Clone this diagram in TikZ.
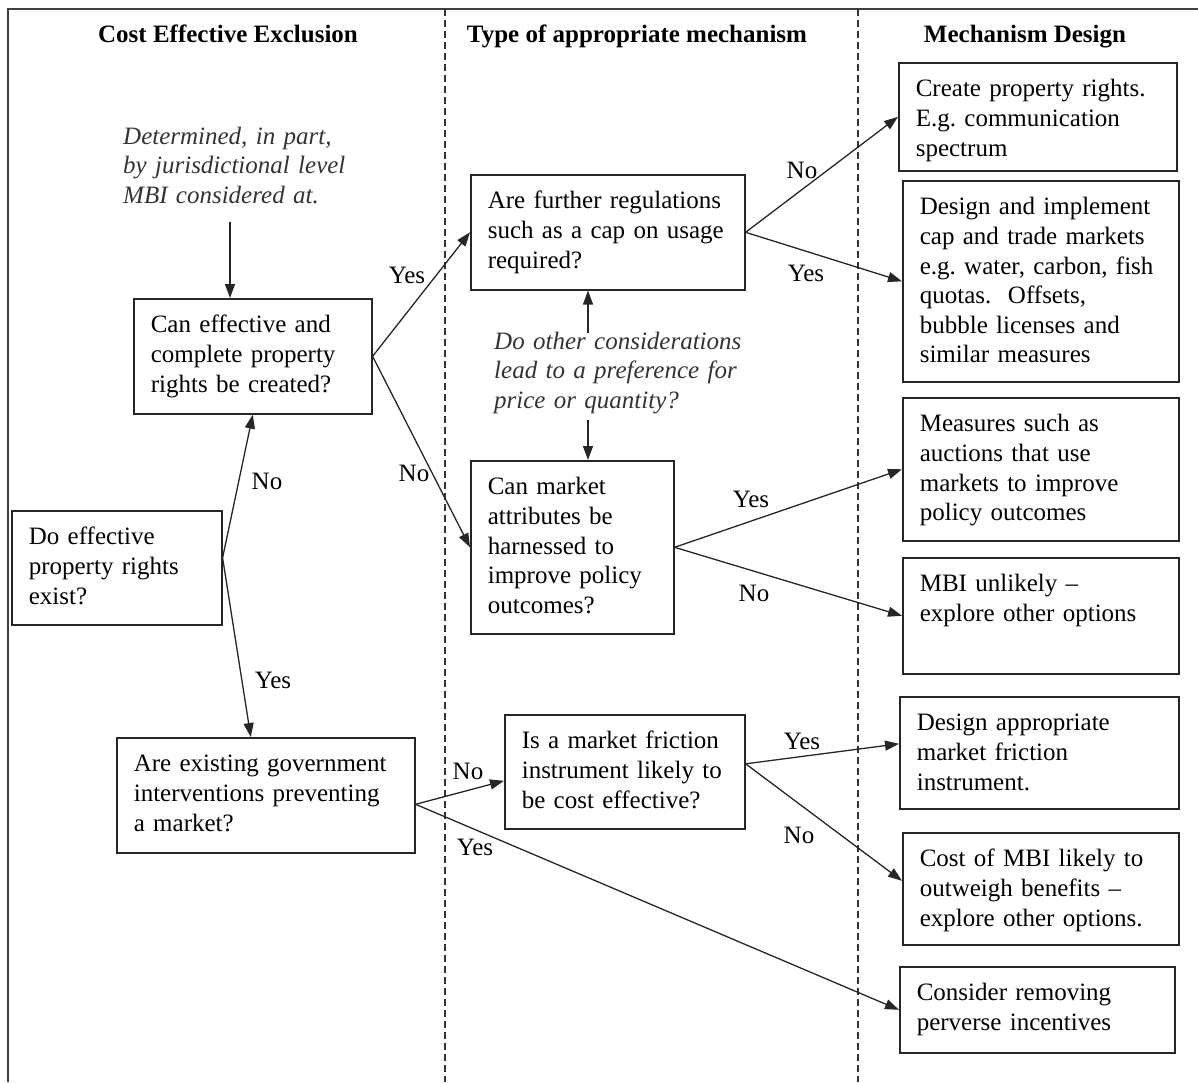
\documentclass[tikz,border=0pt]{standalone}
\usepackage{fontspec}
\setmainfont{Liberation Serif}
\usetikzlibrary{arrows.meta}
\newcommand\figfont{\fontsize{25}{29.6}\selectfont}
\frenchspacing

\begin{document}
\begin{tikzpicture}[
    x=1pt, y=-1pt,
    box/.style={draw=black!85,line width=1.6pt,anchor=north west,align=left,
                inner xsep=17pt,inner ysep=0pt,text height=34pt,font=\figfont},
    note/.style={anchor=base west,align=left,inner sep=0pt,text=black!80,font=\figfont\itshape},
    head/.style={anchor=base,inner sep=0pt,font=\figfont\bfseries},
    lbl/.style={inner sep=0pt,font=\figfont},
    arr/.style={-{Triangle[length=14pt,width=10pt]},line width=1.3pt,draw=black!85},
    divider/.style={dash pattern=on 7pt off 4pt,line width=1.4pt,draw=black!80}
]
\useasboundingbox (0,0) rectangle (1198,1082);

% frame and columns
\draw[line width=1.6pt,black!75] (8,1082) -- (8,9) -- (1198,9);
\draw[divider] (445,9) -- (445,1082);
\draw[divider] (858,9) -- (858,1082);

\node[head] (h1) at (228,42)  {Cost Effective Exclusion};
\node[head] (h2) at (637,42)  {Type of appropriate mechanism};
\node[head] (h3) at (1025,42) {Mechanism Design};

% notes
\node[note,text width=250pt] (n1) at (123,144) {Determined, in part,\\by jurisdictional level\\MBI considered at.};
\node[note,text width=270pt] (n2) at (494,349) {Do other considerations\\lead to a preference for\\price or quantity?};
\coordinate (n1foot) at (230,222);
\coordinate (n2top)  at (588,333);
\coordinate (n2foot) at (588,420);

% questions
\node[box,text width=204pt,text depth=81pt]  (A) at (133,298) {Can effective and\\complete property\\rights be created?};
\node[box,text width=176pt,text depth=80pt]  (B) at (11,510)  {Do effective\\property rights\\exist?};
\node[box,text width=264pt,text depth=81pt]  (C) at (116,737) {Are existing government\\interventions preventing\\a market?};
\node[box,text width=240pt,text depth=81pt]  (D) at (470,174) {Are further regulations\\such as a cap on usage\\required?};
\node[box,text width=169pt,text depth=139pt] (E) at (470,460) {Can market\\attributes be\\harnessed to\\improve policy\\outcomes?};
\node[box,text width=206pt,text depth=80pt]  (F) at (504,714) {Is a market friction\\instrument likely to\\be cost effective?};

% designs
\node[box,text width=244pt,text depth=74pt]  (R1) at (898,62)  {Create property rights.\\E.g. communication\\spectrum};
\node[box,text width=242pt,text depth=167pt] (R2) at (902,180) {Design and implement\\cap and trade markets\\e.g. water, carbon, fish\\quotas.\ \ Offsets,\\bubble licenses and\\similar measures};
\node[box,text width=242pt,text depth=109pt] (R3) at (902,397) {Measures such as\\auctions that use\\markets to improve\\policy outcomes};
\node[box,text width=242pt,text depth=82pt]  (R4) at (902,557) {MBI unlikely --\\explore other options};
\node[box,text width=245pt,text depth=78pt]  (R5) at (899,696) {Design appropriate\\market friction\\instrument.};
\node[box,text width=242pt,text depth=78pt]  (R6) at (902,832) {Cost of MBI likely to\\outweigh benefits --\\explore other options.};
\node[box,text width=241pt,text depth=52pt]  (R7) at (899,966) {Consider removing\\perverse incentives};

% connectors
\draw[arr] (n1foot) -- (n1foot |- A.north);
\draw[arr] (n2top) -- (n2top |- D.south);
\draw[arr] (n2foot) -- (n2foot |- E.north);
\draw[arr] ([yshift=10pt]B.east) -- (A.south);
\draw[arr] ([yshift=10pt]B.east) -- ([xshift=-15pt]C.north);
\draw[arr] (A.east) -- (D.west);
\draw[arr] (A.east) -- (E.west);
\draw[arr] (D.east) -- (R1.west);
\draw[arr] (D.east) -- (R2.west);
\draw[arr] (E.east) -- (R3.west);
\draw[arr] (E.east) -- (R4.west);
\draw[arr] ([yshift=-9pt]C.east) -- ([yshift=-9pt]F.west);
\draw[arr] ([yshift=-9pt]C.east) -- (R7.west);
\draw[arr] ([yshift=8pt]F.east) -- ([yshift=9pt]R5.west);
\draw[arr] ([yshift=8pt]F.east) -- ([yshift=8pt]R6.west);

% labels
\node[lbl] (noBA)  at (267,481) {No};
\node[lbl] (yesBC) at (273,680) {Yes};
\node[lbl] (yesAD) at (407,275) {Yes};
\node[lbl] (noAE)  at (414,473) {No};
\node[lbl] (noD)   at (802,170) {No};
\node[lbl] (yesD)  at (806,273) {Yes};
\node[lbl] (yesE)  at (751,499) {Yes};
\node[lbl] (noE)   at (754,593) {No};
\node[lbl] (noCF)  at (468,771) {No};
\node[lbl] (yesC)  at (475,847) {Yes};
\node[lbl] (yesF)  at (802,741) {Yes};
\node[lbl] (noF)   at (799,835) {No};
\end{tikzpicture}
\end{document}
